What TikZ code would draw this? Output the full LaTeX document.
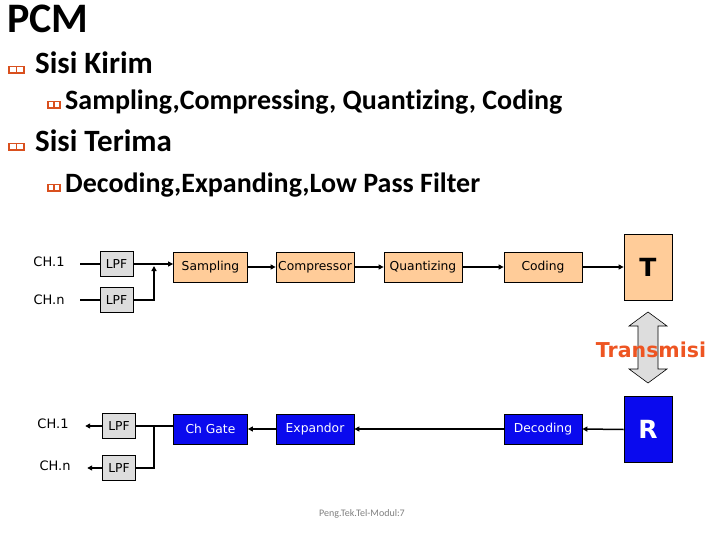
\documentclass[tikz,border=0pt]{standalone}
\usepackage{fontspec}
\setmainfont{Carlito}[Ligatures={NoCommon}]
\newfontfamily\diag{DejaVu Sans}
\usetikzlibrary{arrows.meta}
\definecolor{peach}{HTML}{FFCC99}
\definecolor{lpfgrey}{HTML}{DDDDDD}
\definecolor{rxblue}{HTML}{0A0AEE}
\definecolor{bulletred}{HTML}{D9501E}
\definecolor{transred}{HTML}{EE5522}
\definecolor{footgrey}{HTML}{808080}
\begin{document}
\begin{tikzpicture}[x=1pt,y=-1pt,
  blk/.style={draw=black, line width=0.8pt, inner sep=0pt, font=\diag\fontsize{12.3}{14}\selectfont},
  txbox/.style={blk, fill=peach, minimum width=74pt, minimum height=30pt},
  rxbox/.style={blk, fill=rxblue, text=white, minimum width=74pt, minimum height=30pt},
  lpfbox/.style={blk, fill=lpfgrey, minimum width=33pt, minimum height=25pt},
  endbox/.style={blk, minimum width=48pt, minimum height=66pt, font=\diag\bfseries\fontsize{25}{30}\selectfont},
  chlabel/.style={inner sep=0pt, font=\diag\fontsize{13}{15}\selectfont},
  conn/.style={line width=1.5pt, draw=black},
  arr/.style={conn, -{Triangle[length=5pt,width=5pt]}},
  bulletone/.pic={\fill[bulletred] (0,0) rectangle (17,-8);
     \fill[white] (2,-1.5) rectangle (7.8,-6.5);
     \fill[white] (9.2,-1.5) rectangle (15,-6.5);},
  bullettwo/.pic={\fill[bulletred] (0,0) rectangle (14,-8);
     \fill[white] (1.8,-1.5) rectangle (6.3,-6.5);
     \fill[white] (7.7,-1.5) rectangle (12.2,-6.5);},
  lvl/.style={anchor=base west, inner sep=0pt, font=\bfseries\fontsize{28}{32}\selectfont},
  lvlone/.style={anchor=base west, inner sep=0pt, font=\bfseries\fontsize{31}{36}\selectfont}
]
\useasboundingbox[fill=white] (0,0) rectangle (720,540);

% text part
\node[anchor=base west, inner sep=0pt, font=\bfseries\fontsize{42}{48}\selectfont] (title) at (7,33) {PCM};
\pic at (8,74) {bulletone};
\node[lvlone] (k1) at (35,74) {Sisi Kirim};
\pic at (47,109) {bullettwo};
\node[lvl] (k2) at (65,110) {Sampling,Compressing, Quantizing, Coding};
\pic at (8,151) {bulletone};
\node[lvlone] (t1) at (35,152) {Sisi Terima};
\pic at (47,192) {bullettwo};
\node[lvl] (t2) at (65,193) {Decoding,Expanding,Low Pass Filter};

% transmit chain
\node[chlabel, minimum width=62pt] (ch1) at (49,262) {CH.1};
\node[chlabel, minimum width=62pt] (chn) at (49,300) {CH.n};
\node[lpfbox] (lpf1) at (116.5,264) {LPF};
\node[lpfbox] (lpf2) at (116.5,300) {LPF};
\node[txbox] (samp) at (210.5,267) {Sampling};
\node[txbox, minimum width=78pt] (comp) at (315,267) {Compressor};
\node[txbox, minimum width=78pt] (quant) at (423,267) {Quantizing};
\node[txbox, minimum width=78pt] (cod) at (543,267) {Coding};
\node[endbox, fill=peach] (T) at (648,267) {T};
\coordinate (j1) at (154,266);

\draw[conn] (ch1.east |- lpf1.west) -- (lpf1.west);
\draw[conn] (chn.east |- lpf2.west) -- (lpf2.west);
\draw[arr] (lpf1.east) -- (lpf1.east -| samp.west);
\draw[arr] (lpf2.east) -| (j1);
\draw[arr] (samp.east) -- (comp.west);
\draw[arr] (comp.east) -- (quant.west);
\draw[arr] (quant.east) -- (cod.west);
\draw[arr] (cod.east) -- (T.west);

% receive chain
\node[endbox, fill=rxblue, text=white] (R) at (648,429.5) {R};
\node[rxbox, minimum width=78pt] (dec) at (543,429) {Decoding};
\node[rxbox, minimum width=78pt] (exp) at (315,429) {Expandor};
\node[rxbox] (gate) at (210.5,429) {Ch Gate};
\node[lpfbox] (lpf1b) at (119,426) {LPF};
\node[lpfbox] (lpf2b) at (119,468) {LPF};
\node[chlabel, minimum width=64pt] (ch1b) at (53,424) {CH.1};
\node[chlabel, minimum width=64pt] (chnb) at (55,466) {CH.n};
\coordinate (j2) at (154,426);

\draw[arr] (R.west) -- (dec.east);
\draw[arr] (dec.west) -- (exp.east);
\draw[arr] (exp.west) -- (gate.east);
\draw[conn] (gate.west |- lpf1b.east) -- (lpf1b.east);
\draw[conn] (j2) |- (lpf2b.east);
\draw[arr] (lpf1b.west) -- (lpf1b.west -| ch1b.east);
\draw[arr] (lpf2b.west) -- (lpf2b.west -| chnb.east);

% transmission double arrow
\draw[fill=lpfgrey, draw=black, line width=0.6pt]
  (648,312) -- (667,326) -- (658,326) -- (658,369) -- (667,369) -- (648,383)
  -- (629,369) -- (638,369) -- (638,326) -- (629,326) -- cycle;
\node[inner sep=0pt, text=transred, font=\diag\bfseries\fontsize{20.5}{24}\selectfont] (trans) at (651,350) {Transmisi};

% footer
\node[inner sep=0pt, text=footgrey, font=\fontsize{10}{12}\selectfont] (foot) at (362,514) {Peng.Tek.Tel-Modul:7};
\end{tikzpicture}
\end{document}
